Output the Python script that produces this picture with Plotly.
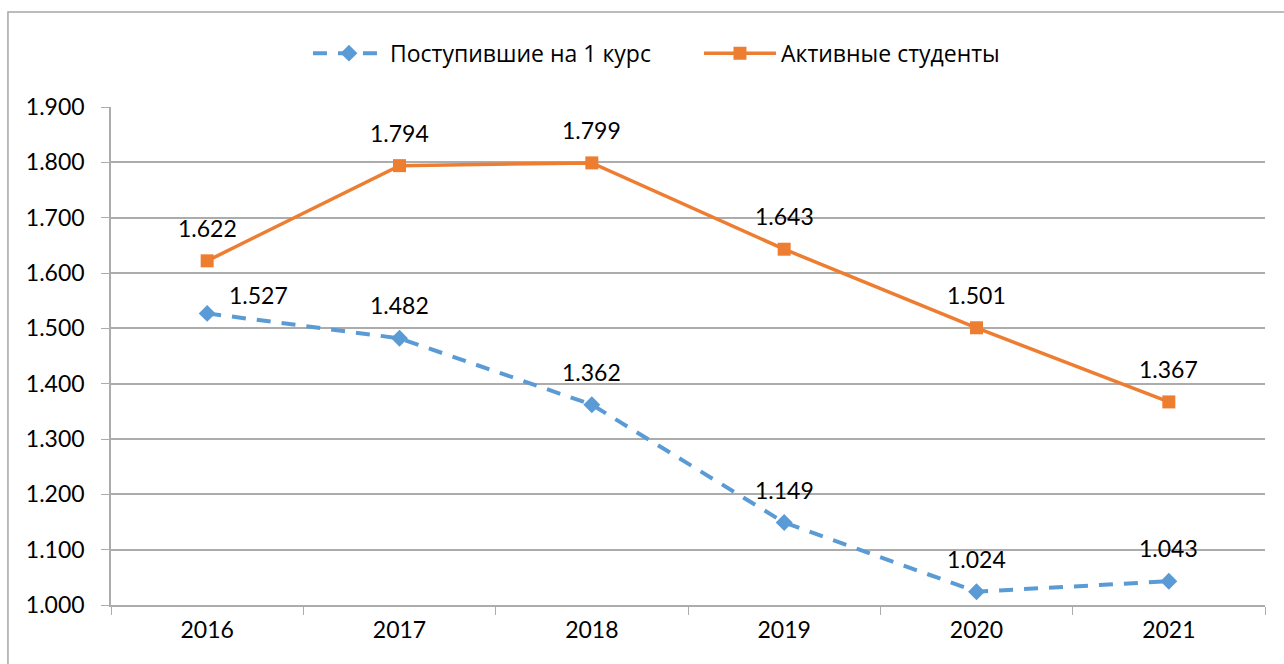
import plotly.graph_objects as go

# Student counts by year
years = ["2016", "2017", "2018", "2019", "2020", "2021"]
first_year = [1527, 1482, 1362, 1149, 1024, 1043]
active = [1622, 1794, 1799, 1643, 1501, 1367]
y_ticks = [1000, 1100, 1200, 1300, 1400, 1500, 1600, 1700, 1800, 1900]

BLUE = "#5B9BD5"
ORANGE = "#ED7D31"
GRID = "#ACACAC"
FONT = "Lato"


def fmt(v):
    return f"{v:,}".replace(",", ".")


fig = go.Figure()
fig.add_trace(go.Scatter(
    x=years, y=first_year, name="Поступившие на 1 курс",
    mode="lines+markers",
    line=dict(color=BLUE, width=4, dash="14px,11px"),
    marker=dict(symbol="diamond", size=13, color=BLUE),
))
fig.add_trace(go.Scatter(
    x=years, y=active, name="Активные студенты",
    mode="lines+markers",
    line=dict(color=ORANGE, width=3.5),
    marker=dict(symbol="square", size=13, color=ORANGE),
))

# Value labels above each point (first blue label sits to the right)
annotations = []
for i, v in enumerate(first_year):
    xs, ys = (51, 18) if i == 0 else (0, 33)
    annotations.append(dict(x=i, y=v, xref="x", yref="y", text=fmt(v),
                            showarrow=False, xshift=xs, yshift=ys,
                            font=dict(size=23, color="#000000", family=FONT)))
for i, v in enumerate(active):
    annotations.append(dict(x=i, y=v, xref="x", yref="y", text=fmt(v),
                            showarrow=False, yshift=33,
                            font=dict(size=23, color="#000000", family=FONT)))

fig.update_layout(
    width=1284, height=664,
    margin=dict(l=111, r=19, t=107, b=59),
    paper_bgcolor="white", plot_bgcolor="white",
    separators=",.",
    font=dict(family=FONT, size=23, color="#000000"),
    showlegend=True,
    legend=dict(orientation="h", x=0.5095, xanchor="center", y=1.108, yanchor="middle",
                font=dict(size=23, family="Open Sans"),
                itemwidth=72, entrywidth=304, entrywidthmode="pixels",
                itemsizing="trace"),
    annotations=annotations,
    shapes=[dict(type="rect", xref="paper", yref="paper",
                 x0=-0.0893, x1=1.2, y0=-0.3, y1=1.1908,
                 line=dict(color="#A6A6A6", width=1.5), layer="below")],
)
fig.update_xaxes(
    type="category", showgrid=False, tickson="boundaries",
    ticks="outside", ticklen=8, tickcolor=GRID,
    showline=True, linecolor=GRID, linewidth=1.5,
    tickfont=dict(size=23), range=[-0.5, 5.5], ticklabelstandoff=4,
)
fig.update_yaxes(
    range=[1000, 1900], tickvals=y_ticks, tickformat=",.0f",
    showgrid=True, gridcolor=GRID, gridwidth=1.5,
    ticks="outside", ticklen=8, tickcolor=GRID,
    showline=True, linecolor=GRID, linewidth=1.5,
    zeroline=False, tickfont=dict(size=23), ticklabelstandoff=12,
)

fig.write_html("out.html")
